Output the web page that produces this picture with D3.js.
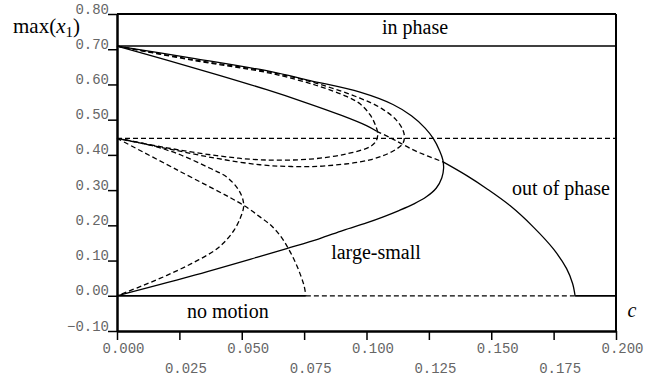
<!DOCTYPE html>
<html><head><meta charset="utf-8">
<script src="https://cdn.jsdelivr.net/npm/d3@7/dist/d3.min.js"></script>
<style>
body{margin:0;background:#fff;}
svg{display:block;}
</style></head>
<body>
<svg id="chart" width="657" height="381"></svg>
<script>
// ---- data ----
const xTicks = [0,0.025,0.05,0.075,0.1,0.125,0.15,0.175,0.2];
const yTicks = [-0.1,0,0.1,0.2,0.3,0.4,0.5,0.6,0.7,0.8];

const inPhase = [[0,0.709],[0.2,0.709]];
const noMotionSolidA = [[0,0],[0.0757,0]];
const noMotionDashed = [[0.0757,0],[0.1836,0]];
const noMotionSolidB = [[0.1836,0],[0.2,0]];
const midDashed = [[0,0.447],[0.2,0.447]];

const outPhaseSolidA = [[0,0.709],[0.02,0.669],[0.04,0.628],[0.06,0.585],[0.075,0.550],[0.09,0.512],[0.1,0.483],[0.1041,0.467]];
const outPhaseDashed = [[0.1041,0.467],[0.11,0.447],[0.1134,0.434],[0.12,0.410],[0.1307,0.380]];
const outPhaseSolidB = [[0.1307,0.380],[0.1402,0.341],[0.1482,0.304],[0.1575,0.256],[0.1669,0.195],[0.1749,0.133],[0.1802,0.077],[0.1826,0.035],[0.1836,0]];

const largeSmall = [[0,0],[0.0293,0.055],[0.056,0.109],[0.068,0.134],[0.0807,0.161],[0.0907,0.186],[0.1,0.207],[0.107,0.225],[0.113,0.242],[0.119,0.261],[0.124,0.281],[0.128,0.306],[0.1302,0.335],[0.1309,0.362],[0.1306,0.386],[0.1293,0.412],[0.1268,0.446],[0.1235,0.476],[0.1180,0.511],[0.1106,0.543],[0.0974,0.578],[0.0774,0.611],[0.0613,0.637],[0.03,0.675],[0,0.709]];

const loopInner = [[0,0.709],[0.03,0.669],[0.0613,0.632],[0.08,0.597],[0.092,0.566],[0.0974,0.545],[0.1014,0.514],[0.1036,0.484],[0.1045,0.460],[0.1039,0.440],[0.1016,0.424],[0.0921,0.403],[0.0774,0.388],[0.0573,0.386],[0.04,0.398],[0.02,0.420],[0,0.447]];
const loopOuter = [[0,0.709],[0.03,0.671],[0.0613,0.635],[0.08,0.603],[0.0974,0.561],[0.106,0.532],[0.1118,0.500],[0.1145,0.472],[0.1152,0.450],[0.1145,0.432],[0.1107,0.411],[0.1014,0.386],[0.084,0.369],[0.07,0.367],[0.0573,0.372],[0.04,0.390],[0.02,0.418],[0,0.447]];

const curveC1 = [[0,0.447],[0.0239,0.358],[0.0507,0.257],[0.0573,0.224],[0.062,0.198],[0.066,0.165],[0.069,0.130],[0.0715,0.095],[0.0735,0.060],[0.075,0.028],[0.0757,0]];
const curveC2 = [[0,0.447],[0.012,0.430],[0.024,0.404],[0.0373,0.362],[0.044,0.337],[0.0486,0.302],[0.0505,0.272],[0.0507,0.250],[0.0495,0.222],[0.047,0.187],[0.043,0.152],[0.039,0.128],[0.03,0.092],[0.02,0.058],[0.01,0.028],[0,0]];

// ---- drawing ----
const svg = d3.select("#chart");
const x = d3.scaleLinear().domain([0,0.2]).range([117,616]);
const y = d3.scaleLinear().domain([-0.1,0.8]).range([331,14]);

const line = d3.line().x(d=>x(d[0])).y(d=>y(d[1])).curve(d3.curveCatmullRom.alpha(0.5));
const straight = d3.line().x(d=>x(d[0])).y(d=>y(d[1]));

// frame (top and right)
svg.append("line").attr("x1",x(0)).attr("x2",x(0.2)).attr("y1",y(0.8)).attr("y2",y(0.8)).attr("stroke","#000").attr("stroke-width",2);
svg.append("line").attr("x1",x(0.2)).attr("x2",x(0.2)).attr("y1",y(0.8)).attr("y2",y(-0.1)).attr("stroke","#000").attr("stroke-width",2);

function draw(data, dashed, gen, w){
  svg.append("path").attr("d",(gen||line)(data)).attr("fill","none").attr("stroke","#000")
    .attr("stroke-width",w||1.3).attr("stroke-dasharray",dashed?"5,3":null);
}
draw(inPhase,false,straight,1.6);
draw(noMotionSolidA,false,straight,1.8);
draw(noMotionDashed,true,straight,1.3);
draw(noMotionSolidB,false,straight,1.8);
draw(midDashed,true,straight,1.3);
draw(outPhaseSolidA,false);
draw(outPhaseDashed,true);
draw(outPhaseSolidB,false);
draw(largeSmall,false);
draw(loopInner,true);
draw(loopOuter,true);
draw(curveC1,true);
draw(curveC2,true);

// axes
const monoFont = "Liberation Mono, DejaVu Sans Mono, monospace";
const gx = svg.append("g").attr("transform",`translate(0,${y(-0.1)})`)
  .call(d3.axisBottom(x).tickValues(xTicks).tickSize(9).tickSizeOuter(0).tickFormat(d3.format(".3f")));
gx.select(".domain").attr("stroke-width",2.5);
gx.selectAll(".tick line").attr("stroke-width",1.5);
gx.selectAll(".tick text").attr("font-family",monoFont).attr("font-size",14).attr("fill","#666")
  .attr("dy",0).attr("x",6).attr("y",(d,i)=> i%2===0 ? 22 : 42);

const gy = svg.append("g").attr("transform",`translate(${x(0)},0)`)
  .call(d3.axisLeft(y).tickValues(yTicks).tickSize(9).tickSizeOuter(0).tickFormat(d3.format(".2f")));
gy.select(".domain").attr("stroke-width",2.5);
gy.selectAll(".tick line").attr("stroke-width",1.5);
gy.selectAll(".tick text").attr("font-family",monoFont).attr("font-size",14).attr("fill","#666")
  .attr("dy",0).attr("x",-8).attr("y",-1);

// labels
const serif = "Liberation Serif, DejaVu Serif, serif";
function label(xp, yp, txt, anchor, italic){
  return svg.append("text").attr("x",xp).attr("y",yp).attr("font-family",serif).attr("font-size",20)
    .attr("fill","#000").attr("text-anchor",anchor||"start").attr("font-style",italic?"italic":"normal").text(txt);
}
const t = svg.append("text").attr("x",13).attr("y",33).attr("font-family",serif).attr("font-size",21).attr("fill","#000");
t.append("tspan").text("max(");
t.append("tspan").attr("font-style","italic").text("x");
t.append("tspan").attr("dy",4).attr("font-size",15).text("1");
t.append("tspan").attr("dy",-4).text(")");

label(632,317,"c","middle",true);
label(415,34,"in phase","middle");
label(561,195,"out of phase","middle");
label(376,259,"large-small","middle");
label(187,318,"no motion","start");
</script>
</body></html>
